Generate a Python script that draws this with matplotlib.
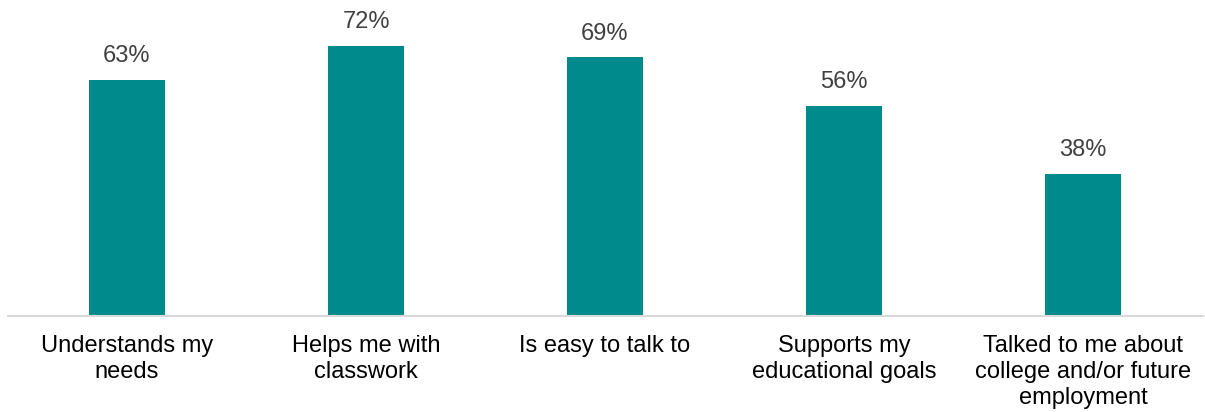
import matplotlib
matplotlib.use("Agg")
import matplotlib.pyplot as plt

categories = ["Understands my\nneeds", "Helps me with\nclasswork", "Is easy to talk to",
              "Supports my\neducational goals", "Talked to me about\ncollege and/or future\nemployment"]
values = [63, 72, 69, 56, 38]
value_labels = ["63%", "72%", "69%", "56%", "38%"]

plt.rcParams['font.family'] = ['Liberation Sans', 'DejaVu Sans']

fig = plt.figure(figsize=(12.05, 4.12), dpi=100)
ax = fig.add_axes([7.5/1205, 1 - 316/412, 1195/1205, 300/412])
x = list(range(len(categories)))
bars = ax.bar(x, values, width=0.314, color="#008A8C")
ax.set_xlim(-0.5, len(categories) - 0.5)
ax.set_ylim(0, 80)
for b, lab in zip(bars, value_labels):
    ax.annotate(lab, (b.get_x() + b.get_width()/2, b.get_height()), xytext=(0, 9),
                textcoords="offset points", ha="center", va="bottom", fontsize=17, color="#404040")
ax.set_xticks(x)
ax.set_xticklabels(categories, fontsize=17, color="#000000", linespacing=1.22)
ax.tick_params(axis="x", length=0, pad=14)
ax.set_yticks([])
for s in ["top", "left", "right"]:
    ax.spines[s].set_visible(False)
ax.spines["bottom"].set_color("#D9D9D9")
ax.spines["bottom"].set_linewidth(1.5)
fig.savefig("out.png", dpi=100)
